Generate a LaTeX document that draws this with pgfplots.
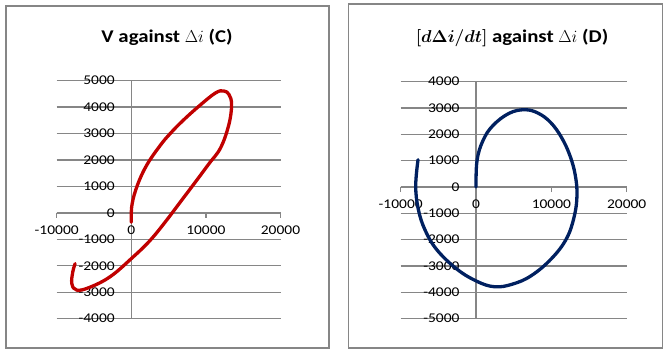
\documentclass[border=0pt]{standalone}
\usepackage{pgfplots}
\pgfplotsset{compat=1.18}
\usepackage{fontspec}
\setmainfont[FakeStretch=1.16]{Carlito}
\definecolor{gridgray}{RGB}{134,134,134}
\definecolor{bordergray}{RGB}{134,134,134}
\definecolor{exred}{RGB}{192,0,0}
\definecolor{exnavy}{RGB}{0,32,96}
\pgfplotsset{excel/.style={
  scale only axis, axis lines=middle,
  axis line style={draw=gridgray, line width=1.3bp, -},
  xmin=-10000, xmax=20000,
  scaled x ticks=false, scaled y ticks=false,
  xtick={-10000,0,10000,20000}, xticklabels={-10000,0,10000,20000},
  ymajorgrids, grid style={draw=gridgray, line width=1.3bp},
  tick align=outside, major tick length=5bp,
  xtick style={draw=gridgray, line width=1.3bp},
  ytick style={draw=none},
  hide obscured x ticks=false, hide obscured y ticks=false,
  tick label style={font=\fontsize{13.4}{13.4}\selectfont, text=black},
  xticklabel style={anchor=north, yshift=-4.5bp},
  yticklabel style={anchor=east, xshift=-8bp},
  clip=false,
}}
\begin{document}
\begin{tikzpicture}[x=1bp,y=1bp]
\path[use as bounding box] (0,0) rectangle (670,352);
\draw[bordergray, line width=1.5bp] (6,4) rectangle (329,346);
\draw[bordergray, line width=1.5bp] (348.3,4) rectangle (662.5,348);
\begin{axis}[excel, at={(56.7bp,33.3bp)}, anchor=south west,
  width=223.8bp, height=238bp, ymin=-4000, ymax=5000,
  ytick={-4000,-3000,-2000,-1000,0,1000,2000,3000,4000,5000},
  yticklabels={-4000,-3000,-2000,-1000,0,1000,2000,3000,4000,5000}]
\addplot[exred, line width=3.3bp, smooth, tension=0.65, line join=round, line cap=round] coordinates {
(0,-351) (94,314) (847,1070) (2110,1827) (3898,2560) (5148,2980)
(6814,3464) (9045,4032) (11290,4538) (12405,4610) (13104,4474)
(13440,4088) (13077,3339) (11962,2458) (10389,1853) (8602,1172)
(6357,333) (5013,-174) (2554,-1029) (0,-1728) (-2822,-2409)
(-5510,-2806) (-7298,-2920) (-7970,-2674) (-7836,-2220) (-7526,-1917)
};
\end{axis}
\begin{axis}[excel, at={(400.7bp,33.3bp)}, anchor=south west,
  width=226bp, height=237bp, ymin=-5000, ymax=4000,
  ytick={-5000,-4000,-3000,-2000,-1000,0,1000,2000,3000,4000},
  yticklabels={-5000,-4000,-3000,-2000,-1000,0,1000,2000,3000,4000}]
\addplot[exnavy, line width=3.3bp, smooth, tension=0.65, line join=round, line cap=round] coordinates {
(0,0) (133,1010) (930,1770) (2258,2340) (4382,2799) (6467,2936)
(8260,2803) (9933,2442) (11368,1872) (12470,1189) (13160,467)
(13400,-300) (13041,-1109) (12005,-1960) (10013,-2719) (7357,-3361)
(4874,-3684) (2483,-3787) (93,-3578) (-2603,-3103) (-5259,-2362)
(-6813,-1603) (-7676,-824) (-8008,49) (-7702,1037)
};
\end{axis}
\node[font=\bfseries\fontsize{18}{18}\selectfont, anchor=center] at (167,315)
  {V against $\Delta i$ (C)};
\node[font=\bfseries\fontsize{18}{18}\selectfont, anchor=center] at (512,314)
  {{\boldmath$[d\Delta i/dt]$} against $\Delta i$ (D)};
\end{tikzpicture}
\end{document}
